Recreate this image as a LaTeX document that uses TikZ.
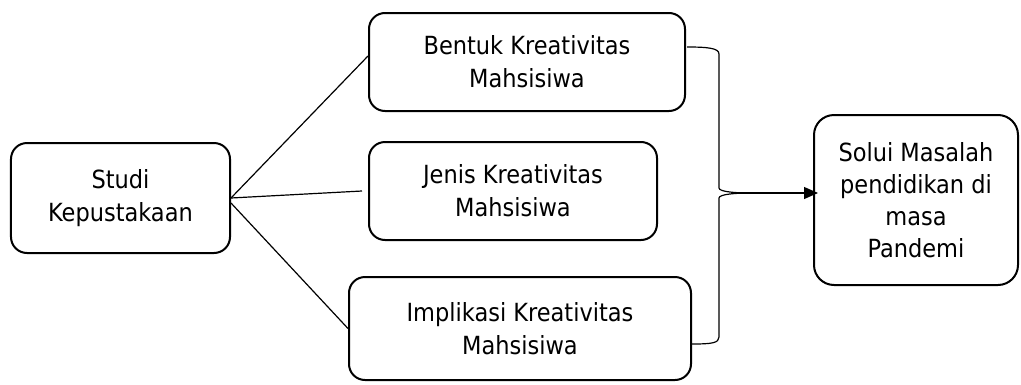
\documentclass[tikz,border=0pt]{standalone}
\usepackage{fontspec}
\setmainfont{DejaVu Sans Condensed}
\usetikzlibrary{positioning, arrows.meta, calc}

\begin{document}
\begin{tikzpicture}[on grid, box/.style={draw, line width=2pt, rounded corners=16pt, align=center, inner sep=0pt, font=\fontsize{25}{33}\selectfont}]
    \tikzset{link/.style={line width=1.2pt}}
    \useasboundingbox (-120.5pt,-186pt) rectangle (900.5pt,198pt);

    % SOURCE
    \node[box, minimum width=219pt, minimum height=110pt] (studi) {Studi\\Kepustakaan};

    % TOPICS
    \node[box, minimum width=316pt, minimum height=98pt] (bentuk) [above right=136pt and 406.5pt of studi] {Bentuk Kreativitas\\Mahsisiwa};
    \node[box, minimum width=288pt, minimum height=98pt] (jenis) [above right=7pt and 392.5pt of studi] {Jenis Kreativitas\\Mahsisiwa};
    \node[box, minimum width=342pt, minimum height=103pt] (implikasi) [below right=130.5pt and 399.5pt of studi] {Implikasi Kreativitas\\Mahsisiwa};

    % RESULT
    \node[box, minimum width=204pt, minimum height=170pt, rounded corners=20pt, font=\fontsize{25}{32}\selectfont] (solusi) [below right=9pt and 403pt of jenis] {Solui Masalah\\pendidikan di\\masa\\Pandemi};

    % LINKS
    \draw[link] (studi.east) -- ([yshift=6pt]bentuk.west);
    \draw[link] (studi.east) -- ([xshift=-6pt]jenis.west);
    \draw[link] ([yshift=-5pt]studi.east) -- (implikasi.west);

    % BRACE
    \coordinate (tip) at ([xshift=90pt,yshift=-2pt]jenis.east);
    \coordinate (bx) at ([xshift=-29pt]tip);
    \coordinate (bt) at ([xshift=1pt,yshift=15pt]bentuk.east);
    \coordinate (bb) at ([yshift=-15.5pt]implikasi.east);
    \draw[link] (bt) .. controls +(20pt,0pt) and +(0pt,6pt) .. ($(bx |- bt)+(0pt,-7pt)$)
        -- ($(bx)+(0pt,5pt)$) .. controls +(0pt,-4pt) and +(-10pt,0pt) .. (tip);
    \draw[link] (tip) .. controls +(-10pt,0pt) and +(0pt,4pt) .. ($(bx)+(0pt,-5pt)$)
        -- ($(bx |- bb)+(0pt,7pt)$) .. controls +(0pt,-6pt) and +(20pt,0pt) .. (bb);

    % ARROW
    \draw[link, -{Triangle[length=14pt, width=12pt]}, shorten >=-5pt] ([xshift=-14pt]tip) -- (tip -| solusi.west);

\end{tikzpicture}
\end{document}
